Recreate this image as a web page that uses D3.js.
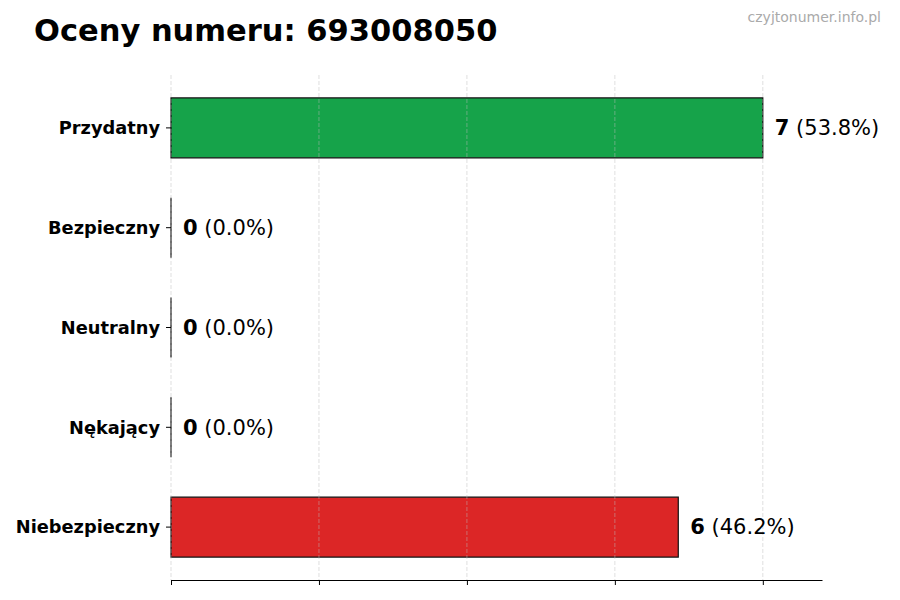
<!doctype html>
<html>
<head>
<meta charset="utf-8">
<title>Oceny numeru: 693008050</title>
<style>
  body { margin: 0; background: #fff; }
  text { font-family: "DejaVu Sans", sans-serif; }
</style>
</head>
<body>
<svg width="900" height="600"></svg>
<script src="https://cdnjs.cloudflare.com/ajax/libs/d3/7.8.5/d3.min.js"></script>
<script>
var categories = ["Przydatny", "Bezpieczny", "Neutralny", "Nękający", "Niebezpieczny"];
var counts = [7, 0, 0, 0, 6];
var colors = ["#16a34a", "#6b7280", "#9ca3af", "#f59e0b", "#dc2626"];
var tickValues = [0, 1.75, 3.5, 5.25, 7];

var total = d3.sum(counts);
var data = categories.map(function(c, i) {
  return { name: c, value: counts[i], color: colors[i] };
});

var svg = d3.select("svg");

var x = d3.scaleLinear()
    .domain([0, d3.max(counts) * 1.1])
    .range([171, 822]);

// band layout like matplotlib barh: height 0.6, 5% margins
var y = d3.scaleLinear()
    .domain([-0.53, categories.length - 1 + 0.53])
    .range([75, 580]);
var barH = y(0.6) - y(0);

// title
svg.append("text")
    .attr("x", 34)
    .attr("y", 41)
    .attr("font-size", 30.5)
    .attr("font-weight", "bold")
    .attr("fill", "#000")
    .text("Oceny numeru: 693008050");

svg.append("text")
    .attr("x", 881)
    .attr("y", 22)
    .attr("text-anchor", "end")
    .attr("font-size", 14)
    .attr("fill", "#aaa")
    .text("czyjtonumer.info.pl");

// bars (paths so that zero-width bars still show their edge)
svg.selectAll(".bar")
  .data(data)
  .enter()
  .append("path")
    .attr("class", "bar")
    .attr("d", function(d, i) {
      var p = d3.path();
      p.rect(x(0), y(i) - barH / 2, x(d.value) - x(0), barH);
      return p.toString();
    })
    .attr("fill", function(d) { return d.color; })
    .attr("stroke", "#111")
    .attr("stroke-width", 1.2);

// grid on top
svg.selectAll(".grid")
  .data(tickValues)
  .enter()
  .append("line")
    .attr("x1", function(d) { return x(d); })
    .attr("x2", function(d) { return x(d); })
    .attr("y1", 75)
    .attr("y2", 580)
    .attr("stroke", "#bbb")
    .attr("stroke-opacity", 0.6)
    .attr("stroke-width", 0.8)
    .attr("stroke-dasharray", "4,2");

// x axis, no labels
var xAxis = svg.append("g")
    .attr("transform", "translate(0,580)")
    .call(d3.axisBottom(x).tickValues(tickValues).tickFormat("").tickSize(5).tickSizeOuter(0));
xAxis.select(".domain").attr("stroke", "#000").attr("stroke-width", 1);
xAxis.selectAll(".tick line").attr("stroke", "#000");

// y labels
var yAxis = svg.append("g");
data.forEach(function(d, i) {
  yAxis.append("line")
      .attr("x1", 166).attr("x2", 171)
      .attr("y1", y(i)).attr("y2", y(i))
      .attr("stroke", "#000");
  yAxis.append("text")
      .attr("x", 160)
      .attr("y", y(i))
      .attr("dy", "0.35em")
      .attr("text-anchor", "end")
      .attr("font-size", 17.8)
      .attr("font-weight", "bold")
      .text(d.name);
});

// value labels
data.forEach(function(d, i) {
  var t = svg.append("text")
      .attr("x", x(d.value) + 12)
      .attr("y", y(i))
      .attr("dy", "0.35em")
      .attr("font-size", 21);
  t.append("tspan").attr("font-weight", "bold").text(d.value);
  t.append("tspan").text(" (" + (d.value / total * 100).toFixed(1) + "%)");
});
</script>
</body>
</html>
